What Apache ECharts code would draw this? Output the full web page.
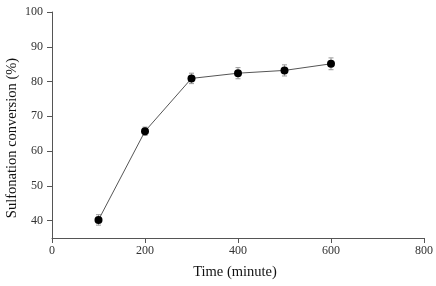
<!DOCTYPE html>
<html>
<head>
<meta charset="utf-8">
<script src="https://cdn.jsdelivr.net/npm/echarts@6/dist/echarts.min.js"></script>
<style>
  html, body { margin: 0; padding: 0; background: #fff; }
  #chart { width: 436px; height: 286px; }
</style>
</head>
<body>
<div id="chart"></div>
<script>
// values
const times = [100, 200, 300, 400, 500, 600];
const conversion = [40.2, 65.7, 80.9, 82.4, 83.2, 85.1];
const errors = [1.5, 1.2, 1.5, 1.6, 1.6, 1.7];
const yTicks = [40, 50, 60, 70, 80, 90, 100];

var chart = echarts.init(document.getElementById('chart'));

const font = 'Liberation Serif';

const lineData = times.map((t, i) => [t, conversion[i]]);
const errData = times.map((t, i) => [t, conversion[i] - errors[i], conversion[i] + errors[i]]);

const option = {
  animation: false,
  grid: { left: 52, right: 12, top: 12, bottom: 48, outerBoundsMode: 'none', containLabel: false },
  xAxis: {
    type: 'value',
    min: 0,
    max: 800,
    interval: 200,
    name: 'Time (minute)',
    nameLocation: 'middle',
    nameGap: 27,
    nameMoveOverlap: false,
    nameTextStyle: { fontFamily: font, fontSize: 14.5, color: '#111', padding: [0, 6, 0, 0] },
    axisLine: { lineStyle: { color: '#555', width: 1 } },
    axisTick: { show: true, length: 5, lineStyle: { color: '#555' } },
    axisLabel: { fontFamily: font, fontSize: 12, color: '#333', margin: 7 },
    splitLine: { show: false }
  },
  yAxis: {
    type: 'value',
    min: 35,
    max: 100,
    name: 'Sulfonation conversion (%)',
    nameLocation: 'middle',
    nameGap: 32,
    nameMoveOverlap: false,
    nameTextStyle: { fontFamily: font, fontSize: 14.5, color: '#111', padding: [0, 26, 0, 0] },
    axisLine: { show: true, lineStyle: { color: '#555', width: 1 } },
    axisTick: { show: true, length: 5, customValues: yTicks, lineStyle: { color: '#555' } },
    axisLabel: { fontFamily: font, fontSize: 12, color: '#333', margin: 9, customValues: yTicks },
    splitLine: { show: false }
  },
  series: [
    {
      type: 'custom',
      data: errData,
      z: 1,
      renderItem: function (params, api) {
        const x = api.value(0);
        const lo = api.coord([x, api.value(1)]);
        const hi = api.coord([x, api.value(2)]);
        const w = 2.5;
        const style = { stroke: '#999', lineWidth: 1 };
        return {
          type: 'group',
          children: [
            { type: 'line', shape: { x1: lo[0], y1: lo[1], x2: hi[0], y2: hi[1] }, style: style },
            { type: 'line', shape: { x1: lo[0] - w, y1: lo[1], x2: lo[0] + w, y2: lo[1] }, style: style },
            { type: 'line', shape: { x1: hi[0] - w, y1: hi[1], x2: hi[0] + w, y2: hi[1] }, style: style }
          ]
        };
      }
    },
    {
      type: 'line',
      data: lineData,
      z: 2,
      symbol: 'circle',
      symbolSize: 8,
      lineStyle: { color: '#555', width: 1 },
      itemStyle: { color: '#000' }
    }
  ]
};

chart.setOption(option);
</script>
</body>
</html>
